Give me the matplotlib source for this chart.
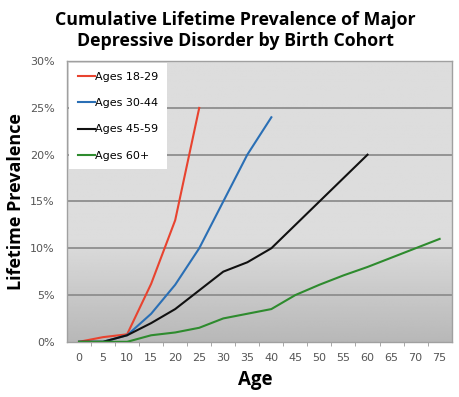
#!/usr/bin/env python3
"""Cumulative lifetime prevalence of MDD by birth cohort."""

import matplotlib

matplotlib.use("Agg")
import matplotlib.pyplot as plt
import numpy as np

# Ages (x axis) and cumulative prevalence (%) per cohort
ages_1829 = [0, 5, 10, 15, 20, 25]
prev_1829 = [0, 0.5, 0.8, 6.2, 13, 25]

ages_3044 = [0, 5, 10, 15, 20, 25, 30, 35, 40]
prev_3044 = [0, 0, 0.7, 3, 6.1, 10, 15, 20, 24]

ages_4559 = [0, 5, 10, 15, 20, 25, 30, 35, 40, 45, 50, 55, 60]
prev_4559 = [0, 0, 0.7, 2, 3.5, 5.5, 7.5, 8.5, 10, 12.5, 15, 17.5, 20]

ages_60 = [0, 5, 10, 15, 20, 25, 30, 35, 40, 45, 50, 55, 60, 65, 70, 75]
prev_60 = [0, 0, 0, 0.7, 1, 1.5, 2.5, 3, 3.5, 5, 6.1, 7.1, 8, 9, 10, 11]

x_ticks = list(range(0, 80, 5))
y_ticks = [0, 5, 10, 15, 20, 25, 30]

fig = plt.figure(figsize=(4.59, 3.97), dpi=100)
fig.patch.set_facecolor("white")
ax = fig.add_axes([0.146, 0.139, 0.838, 0.707])

# Gray gradient background (lighter at top, darker near zero)
ys = np.linspace(0, 30, 300)
shade = np.where(ys >= 11, 0.865, 0.72 + (0.865 - 0.72) * ys / 11)
grad = np.repeat(shade[:, None], 2, axis=1)
ax.imshow(
    grad,
    extent=(-2.5, 77.5, 0, 30),
    origin="lower",
    aspect="auto",
    cmap="gray",
    vmin=0,
    vmax=1,
    zorder=0,
)

for y in y_ticks[1:-1]:
    ax.axhline(y, color="#8e8e8e", linewidth=1.3, zorder=1)

ax.plot(ages_1829, prev_1829, color="#e8432f", linewidth=1.5, label="Ages 18-29", zorder=3)
ax.plot(ages_3044, prev_3044, color="#2a6fb5", linewidth=1.5, label="Ages 30-44", zorder=3)
ax.plot(ages_4559, prev_4559, color="#111111", linewidth=1.5, label="Ages 45-59", zorder=3)
ax.plot(ages_60, prev_60, color="#2e8b2e", linewidth=1.5, label="Ages 60+", zorder=3)

ax.set_xlim(-2.5, 77.5)
ax.set_ylim(0, 30)
ax.set_xticks(x_ticks)
ax.set_xticks([x + 2.5 for x in x_ticks[:-1]], minor=True)
ax.set_yticks(y_ticks)
ax.set_yticklabels([f"{y}%" for y in y_ticks])
ax.tick_params(axis="both", which="major", labelsize=8, labelcolor="#555555",
               length=0, pad=8)
ax.tick_params(axis="x", which="minor", length=3, color="#999999")
ax.tick_params(axis="y", pad=9)

for side in ["left", "right", "top", "bottom"]:
    ax.spines[side].set_color("#a0a0a0")
    ax.spines[side].set_linewidth(1.0)

leg = ax.legend(
    loc="upper left",
    bbox_to_anchor=(0.0, 1.0),
    frameon=True,
    fancybox=False,
    framealpha=1,
    edgecolor="white",
    fontsize=8,
    handlelength=1.5,
    handletextpad=0.0,
    labelspacing=1.45,
    borderpad=0.8,
    borderaxespad=0.2,
)
leg.get_frame().set_linewidth(0)

fig.text(
    0.512,
    0.972,
    "Cumulative Lifetime Prevalence of Major\nDepressive Disorder by Birth Cohort",
    ha="center",
    va="top",
    fontsize=12.8,
    fontweight="bold",
    family="Open Sans",
    linespacing=1.2,
)
ax.set_xlabel("Age", fontsize=13.5, fontweight="bold", family="Open Sans")
ax.set_ylabel("Lifetime Prevalence", fontsize=13, fontweight="bold",
              family="Open Sans")
ax.xaxis.set_label_coords(0.49, -0.1)
ax.yaxis.set_label_coords(-0.11, 0.5)

fig.savefig("out.png", dpi=100, facecolor="white")
